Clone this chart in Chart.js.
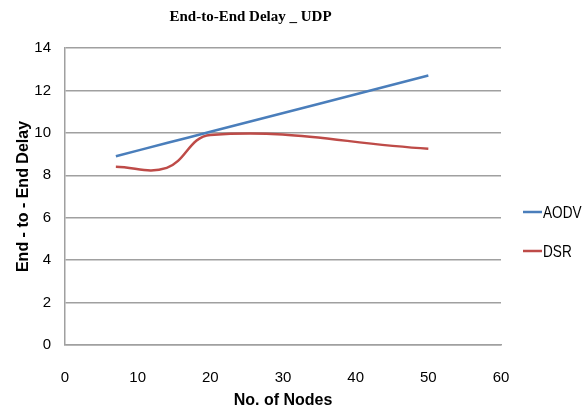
<!DOCTYPE html>
<html>
<head>
<meta charset="utf-8">
<script src="https://cdn.jsdelivr.net/npm/chart.js@4/dist/chart.umd.min.js"></script>
<style>
  html, body { margin: 0; padding: 0; background: #fff; }
  #wrap { width: 586px; height: 414px; }
</style>
</head>
<body>
<div id="wrap"><canvas id="chart"></canvas></div>
<script>
const nodes = [7, 14, 20, 50];
const aodv = [8.9, 9.52, 10.05, 12.7];
const dsr = [8.4, 8.35, 9.9, 9.25];
const seriesNames = ['AODV', 'DSR'];
const seriesColors = ['#4a7ebb', '#be4b48'];

const tickFont = { family: "'Liberation Sans', sans-serif", size: 15 };

// legend drawn on the right like the original (narrow text)
const sideLegend = {
  id: 'sideLegend',
  afterDraw(chart) {
    const ctx = chart.ctx;
    const rows = [212, 251];
    ctx.save();
    ctx.font = "17px 'Liberation Sans', sans-serif";
    ctx.textBaseline = 'middle';
    chart.data.datasets.forEach((ds, i) => {
      ctx.strokeStyle = ds.borderColor;
      ctx.lineWidth = 2.5;
      ctx.beginPath();
      ctx.moveTo(523, rows[i]);
      ctx.lineTo(542, rows[i]);
      ctx.stroke();
      ctx.save();
      ctx.translate(543, rows[i] + 1);
      ctx.scale(0.8, 1);
      ctx.fillStyle = '#000';
      ctx.fillText(ds.label, 0, 0);
      ctx.restore();
    });
    ctx.restore();
  }
};

new Chart(document.getElementById('chart'), {
  type: 'line',
  data: {
    datasets: [
      {
        label: seriesNames[0],
        data: nodes.map((x, i) => ({ x: x, y: aodv[i] })),
        borderColor: seriesColors[0],
        borderWidth: 2.5,
        pointRadius: 0,
        tension: 0.4,
        fill: false
      },
      {
        label: seriesNames[1],
        data: nodes.map((x, i) => ({ x: x, y: dsr[i] })),
        borderColor: seriesColors[1],
        borderWidth: 2.5,
        pointRadius: 0,
        tension: 0.4,
        fill: false
      }
    ]
  },
  options: {
    responsive: true,
    maintainAspectRatio: false,
    animation: false,
    layout: { padding: { left: 0, right: 85, top: 0, bottom: 0 } },
    plugins: {
      legend: { display: false },
      tooltip: { enabled: false },
      title: {
        display: true,
        text: 'End-to-End Delay _ UDP',
        color: '#000',
        font: { family: "'Liberation Serif', serif", size: 15, weight: 'bold' },
        padding: { top: 8, bottom: 22 }
      }
    },
    scales: {
      x: {
        type: 'linear',
        min: 0,
        max: 60,
        ticks: { stepSize: 10, color: '#000', font: tickFont, padding: 24 },
        grid: { display: false, drawTicks: false },
        border: { display: true, color: '#a0a0a0', width: 1.5 },
        title: {
          display: true,
          text: 'No. of Nodes',
          color: '#000',
          font: { family: "'Liberation Sans', sans-serif", size: 16, weight: 'bold' },
          padding: { top: 8 }
        },
        afterFit(scale) { scale.height = 69; }
      },
      y: {
        min: 0,
        max: 14,
        ticks: { stepSize: 2, color: '#000', font: tickFont, padding: 14 },
        grid: { color: '#a0a0a0', lineWidth: 1.5, drawTicks: false },
        border: { display: true, color: '#a0a0a0', width: 1.5 },
        title: {
          display: true,
          text: 'End - to - End Delay',
          color: '#000',
          font: { family: "'Liberation Sans', sans-serif", size: 16, weight: 'bold' },
          padding: { top: 14, bottom: 4 }
        },
        afterFit(scale) { scale.width = 65; }
      }
    }
  },
  plugins: [sideLegend]
});
</script>
</body>
</html>
